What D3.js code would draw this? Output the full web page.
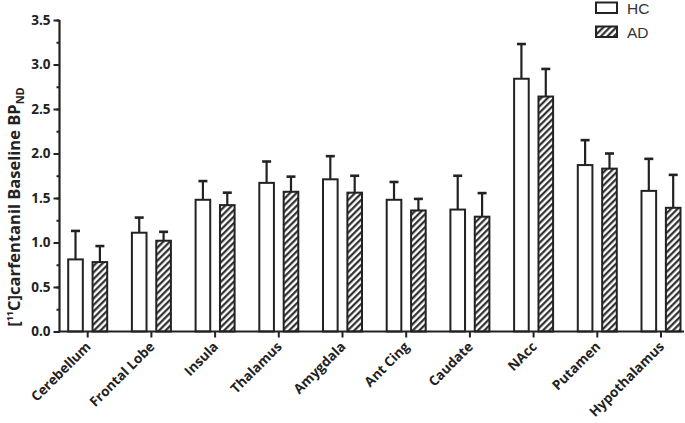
<!DOCTYPE html>
<html>
<head>
<meta charset="utf-8">
<script src="https://cdn.jsdelivr.net/npm/d3@7"></script>
<style>
  body { margin: 0; background: #fff; }
</style>
</head>
<body>
<div id="chart"></div>
<script>
// data
const regions = ["Cerebellum", "Frontal Lobe", "Insula", "Thalamus", "Amygdala",
  "Ant Cing", "Caudate", "NAcc", "Putamen", "Hypothalamus"];
const groups = ["HC", "AD"];
const hcMean = [0.81, 1.11, 1.48, 1.67, 1.71, 1.48, 1.37, 2.84, 1.87, 1.58];
const hcErr  = [0.32, 0.17, 0.21, 0.24, 0.26, 0.20, 0.38, 0.39, 0.28, 0.36];
const adMean = [0.78, 1.02, 1.42, 1.57, 1.56, 1.36, 1.29, 2.64, 1.83, 1.39];
const adErr  = [0.18, 0.10, 0.14, 0.17, 0.19, 0.13, 0.265, 0.31, 0.17, 0.37];
const yTicks = [0, 0.5, 1.0, 1.5, 2.0, 2.5, 3.0, 3.5];

const width = 685, height = 423;
const ink = "#222";

const rows = [];
regions.forEach((r, i) => {
  rows.push({ region: r, group: "HC", mean: hcMean[i], err: hcErr[i] });
  rows.push({ region: r, group: "AD", mean: adMean[i], err: adErr[i] });
});

const svg = d3.select("#chart").append("svg")
  .attr("width", width)
  .attr("height", height);

// hatch for AD
const defs = svg.append("defs");
defs.append("pattern")
  .attr("id", "hatch")
  .attr("patternUnits", "userSpaceOnUse")
  .attr("width", 4.6)
  .attr("height", 4.6)
  .attr("patternTransform", "rotate(45)")
  .call(p => p.append("rect").attr("width", 4.6).attr("height", 4.6).attr("fill", "#fff"))
  .append("line")
  .attr("x1", 1.2).attr("y1", 0).attr("x2", 1.2).attr("y2", 4.6)
  .attr("stroke", ink).attr("stroke-width", 2.1);

const x = d3.scalePoint().domain(regions).range([87.7, 661]);
const xSub = d3.scaleBand().domain(groups).range([-19.5, 19.5]).paddingInner(0.4);
const y = d3.scaleLinear().domain([0, 3.5]).range([331.5, 20]);

const fill = d => d.group === "HC" ? "#fff" : "url(#hatch)";

// error bars (upper only), drawn before bars
const eb = svg.append("g").attr("stroke", ink).attr("stroke-width", 2.2);
rows.forEach(d => {
  const cx = x(d.region) + xSub(d.group) + xSub.bandwidth() / 2;
  eb.append("line").attr("x1", cx).attr("x2", cx)
    .attr("y1", y(d.mean)).attr("y2", y(d.mean + d.err));
  eb.append("line").attr("x1", cx - 4.5).attr("x2", cx + 4.5)
    .attr("y1", y(d.mean + d.err)).attr("y2", y(d.mean + d.err))
    .attr("stroke-width", 2.6);
});

// bars
svg.append("g")
  .selectAll("rect")
  .data(rows)
  .join("rect")
  .attr("x", d => x(d.region) + xSub(d.group))
  .attr("y", d => y(d.mean))
  .attr("width", xSub.bandwidth())
  .attr("height", d => y(0) - y(d.mean))
  .attr("fill", fill)
  .attr("stroke", ink)
  .attr("stroke-width", 2);

// y axis
const yAxis = svg.append("g").attr("transform", "translate(59.5,0)");
yAxis.call(d3.axisLeft(y).tickValues(d3.range(0, 3.51, 0.25)).tickSize(3).tickFormat(""))
  .call(g => g.selectAll("line").attr("stroke", ink).attr("stroke-width", 2));
yAxis.call(g => g.select(".domain").remove());
yAxis.append("g")
  .call(d3.axisLeft(y).tickValues(yTicks).tickSize(6).tickPadding(3).tickFormat(d3.format(".1f")))
  .call(g => g.select(".domain").attr("stroke", ink).attr("stroke-width", 2.2).attr("d", `M0,${y(3.5)}V${y(0)}`))
  .call(g => g.selectAll("line").attr("stroke", ink).attr("stroke-width", 2))
  .call(g => g.selectAll("text")
    .attr("fill", ink)
    .style("font-family", "'Open Sans', sans-serif")
    .style("font-weight", "bold")
    .style("font-size", "13.5px"));

// x axis
const xAxis = svg.append("g").attr("transform", `translate(0,${y(0)})`);
xAxis.append("line")
  .attr("x1", 58.5).attr("x2", 684)
  .attr("stroke", ink).attr("stroke-width", 2.2);
xAxis.selectAll("line.tk")
  .data(regions)
  .join("line")
  .attr("class", "tk")
  .attr("x1", d => x(d)).attr("x2", d => x(d))
  .attr("y1", 0).attr("y2", 6)
  .attr("stroke", ink).attr("stroke-width", 2);

// rotated category labels, placed straight in the svg (no parent transform)
svg.selectAll("text.lbl")
  .data(regions)
  .join("text")
  .attr("class", "lbl")
  .attr("transform", d => `translate(${x(d) + 4},${y(0) + 16}) rotate(-45)`)
  .attr("text-anchor", "end")
  .attr("fill", ink)
  .style("font-family", "'Open Sans', sans-serif")
  .style("font-weight", "bold")
  .style("font-size", "13.5px")
  .text(d => d);

// y title
const title = svg.append("text")
  .attr("transform", "translate(20,207) rotate(-90)")
  .attr("text-anchor", "middle")
  .attr("fill", ink)
  .style("font-family", "'Open Sans', sans-serif")
  .style("font-weight", "bold")
  .style("font-size", "16.5px");
title.append("tspan").text("[");
title.append("tspan").attr("dy", -7).style("font-size", "9px").text("11");
title.append("tspan").attr("dy", 7).text("C]carfentanil Baseline BP");
title.append("tspan").attr("dy", 4).style("font-size", "11px").text("ND");

// legend
const legend = svg.append("g").attr("transform", "translate(596,2.5)");
groups.forEach((g, i) => {
  const row = legend.append("g").attr("transform", `translate(0,${i * 24})`);
  row.append("rect")
    .attr("width", 21).attr("height", 10.5)
    .attr("fill", g === "HC" ? "#fff" : "url(#hatch)")
    .attr("stroke", ink).attr("stroke-width", 2);
  row.append("text")
    .attr("x", 31).attr("y", 11.5)
    .style("font-family", "'Liberation Sans', Arial, sans-serif")
    .style("font-size", "15.5px")
    .attr("fill", "#333")
    .text(g);
});
</script>
</body>
</html>
